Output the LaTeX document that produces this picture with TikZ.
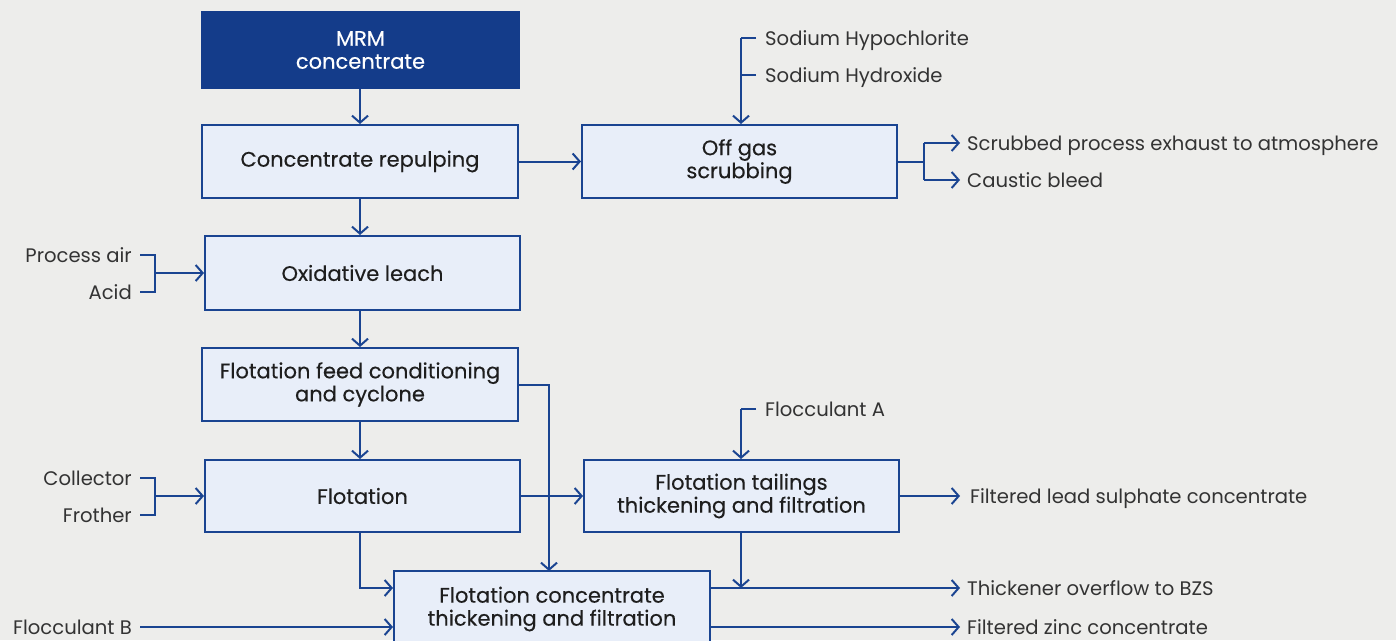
\documentclass[tikz,border=0pt]{standalone}
\usepackage{fontspec}
\setmainfont{Poppins}
\newfontfamily\boxfont{Poppins}[FakeBold=0.3]
\usetikzlibrary{arrows.meta,calc}
\definecolor{bg}{HTML}{EDEDEB}
\definecolor{boxfill}{HTML}{E8EEF9}
\definecolor{boxline}{HTML}{1A4491}
\definecolor{darkbox}{HTML}{143C8A}
\definecolor{txt}{HTML}{1E1E1E}
\definecolor{lbl}{HTML}{333333}
\tikzset{
  proc/.style={draw=boxline, line width=2pt, fill=boxfill, text=txt, align=center,
    font=\boxfont\fontsize{21}{23}\selectfont, inner sep=0pt},
  lab/.style={text=lbl, font=\fontsize{19.6}{23}\selectfont, inner sep=0pt},
  arr/.style={draw=boxline, line width=2pt, -{Straight Barb[length=7pt,width=16pt,line width=2pt]}},
  ln/.style={draw=boxline, line width=2pt},
}
\begin{document}
\begin{tikzpicture}[x=1pt,y=-1pt]
\fill[bg] (0,0) rectangle (1396,640);
\useasboundingbox (0,0) rectangle (1396,640);
\clip (0,0) rectangle (1396,640);
% boxes
\node[proc, fill=darkbox, draw=darkbox, text=white, minimum width=317pt, minimum height=76pt] (mrm) at (360.5,50) {MRM\\concentrate};
\node[proc, minimum width=316pt, minimum height=73pt] (rep) at (360,161.5) {Concentrate repulping};
\node[proc, minimum width=315pt, minimum height=73pt] (off) at (739.5,161.5) {Off gas\\scrubbing};
\node[proc, minimum width=315pt, minimum height=74pt] (oxl) at (362.5,273) {Oxidative leach};
\node[proc, minimum width=316pt, minimum height=73pt] (ffc) at (360,384.5) {Flotation feed conditioning\\and cyclone};
\node[proc, minimum width=315pt, minimum height=72pt] (flo) at (362.5,496) {Flotation};
\node[proc, minimum width=315pt, minimum height=72pt] (tail) at (741.5,496) {Flotation tailings\\thickening and filtration};
\node[proc, minimum width=316pt, minimum height=80pt] (conc) at (552,611) {};
\node[proc, draw=none, fill=none] (conct) at (552,609) {Flotation concentrate\\thickening and filtration};
% labels (baseline = line y + 7)
\node[lab, anchor=base west] (nahc) at (765,45) {Sodium Hypochlorite};
\node[lab, anchor=base west] (naoh) at (765,82) {Sodium Hydroxide};
\node[lab, anchor=base west] (exh) at (967,150) {Scrubbed process exhaust to atmosphere};
\node[lab, anchor=base west] (caus) at (967,187) {Caustic bleed};
\node[lab, anchor=base east] (pair) at (132,262) {Process air};
\node[lab, anchor=base east] (acid) at (132,299) {Acid};
\node[lab, anchor=base east] (coll) at (132,485) {Collector};
\node[lab, anchor=base east] (froth) at (132,522) {Frother};
\node[lab, anchor=base east] (flocb) at (132,634) {Flocculant B};
\node[lab, anchor=base west] (floca) at (765,416) {Flocculant A};
\node[lab, anchor=base west] (lead) at (970,503) {Filtered lead sulphate concentrate};
\node[lab, anchor=base west] (bzs) at (967,595) {Thickener overflow to BZS};
\node[lab, anchor=base west] (zinc) at (967,634) {Filtered zinc concentrate};
% connector end points beside the labels
\coordinate (nahcE) at (756,38);
\coordinate (naohE) at (756,75);
\coordinate (exhE) at (960,143);
\coordinate (causE) at (960,180);
\coordinate (pairE) at (140,255);
\coordinate (acidE) at (140,292);
\coordinate (collE) at (140,478);
\coordinate (frothE) at (140,515);
\coordinate (flocbE) at (140,627);
\coordinate (flocaE) at (756,409);
\coordinate (leadE) at (960,496);
\coordinate (bzsE) at (960,588);
\coordinate (zincE) at (960,627);
% junctions
\coordinate (nj) at (741,38);
\coordinate (pj) at (155,273);
\coordinate (cj) at (155,496);
\coordinate (oj) at (924,161.5);
\coordinate (aj) at (741,409);
% main flow
\draw[arr] (mrm.south -| 360,0) -- (rep.north -| 360,0);
\draw[arr] (rep.south -| 360,0) -- (oxl.north -| 360,0);
\draw[arr] (oxl.south -| 360,0) -- (ffc.north -| 360,0);
\draw[arr] (ffc.south -| 360,0) -- (flo.north -| 360,0);
\draw[arr] (rep.east) -- (off.west);
\draw[arr] (ffc.east) -| (549,571);
\draw[arr] (flo.east) -- (tail.west);
\draw[arr] (flo.south -| 360,0) |- (conc.west |- 0,588);
\draw[arr] (tail.south -| 741,0) -- (741,588);
\draw[arr] (conc.east |- 0,588) -- (bzsE);
\draw[arr] (conc.east |- 0,627) -- (zincE);
\draw[arr] (tail.east) -- (leadE);
\draw[arr] (flocbE) -- (conc.west |- 0,627);
% scrubbing reagents
\draw[ln] (nahcE) -- (nj);
\draw[ln] (naohE) -- (741,75);
\draw[arr] (nj) -- (off.north -| 741,0);
\draw[ln] (off.east) -- (oj);
\draw[arr] (oj |- 0,143) -- (exhE);
\draw[arr] (oj |- 0,180) -- (causE);
\draw[ln] (oj |- 0,143) -- (oj |- 0,180);
% leach reagents
\draw[ln] (pairE) -| (pj |- 0,292) -- (acidE);
\draw[arr] (pj) -- (oxl.west);
% flotation reagents
\draw[ln] (collE) -| (cj |- 0,515) -- (frothE);
\draw[arr] (cj) -- (flo.west);
% flocculant A
\draw[ln] (flocaE) -- (aj);
\draw[arr] (aj) -- (tail.north -| 741,0);
\end{tikzpicture}
\end{document}
